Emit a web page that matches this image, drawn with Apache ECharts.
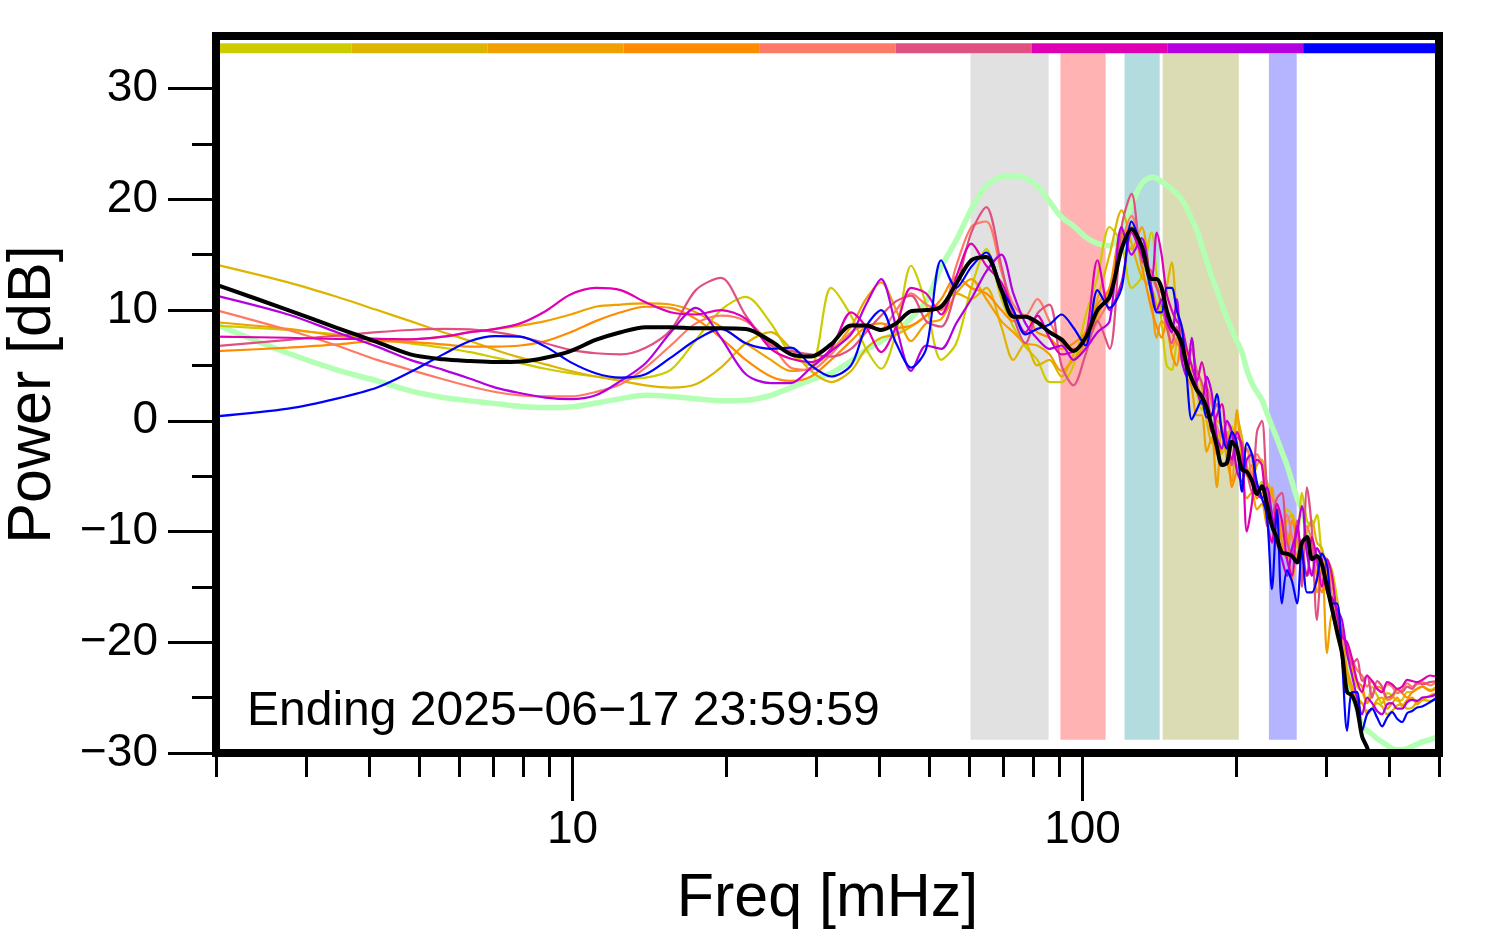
<!DOCTYPE html>
<html><head><meta charset="utf-8">
<script src="https://cdn.jsdelivr.net/npm/echarts@6/dist/echarts.min.js"></script>
<style>html,body{margin:0;padding:0;background:#fff}#c{width:1494px;height:952px}</style>
</head><body><div id="c"></div>
<script>
// ---- data ----
const freq = [2.00, 2.77, 3.45, 4.14, 4.81, 5.58, 6.30, 7.06, 7.90, 8.85,
  9.91, 11.10, 12.43, 13.91, 15.58, 17.45, 19.54, 21.87, 24.49, 26.81,
  29.35, 32.13, 35.17, 37.63, 40.29, 43.11, 46.13, 49.37, 52.84, 56.55,
  60.52, 64.77, 69.32, 73.17, 77.27, 81.56, 86.13, 90.94, 96.0, 101.4,
  107.0, 113.0, 119.3, 124.8, 130.6,
  136.6, 139.8, 142.9, 146.2, 149.6, 153.0, 156.5, 160.1, 163.7, 167.5,
  171.3, 175.2, 179.2, 183.4, 187.6, 191.9, 196.3, 200.7, 205.4, 210.0,
  214.8, 219.8, 224.8, 229.9, 235.2, 240.6, 246.0, 251.7, 257.5, 263.4,
  269.3, 275.5, 281.8, 288.2, 294.8, 301.6, 308.5, 315.5, 322.7, 330.2,
  337.7, 345.4, 353.3, 361.4, 369.7, 378.1, 386.7, 395.6, 404.7, 413.9,
  423.4, 433.1, 443.0, 453.1, 463.4, 480.6, 500];

const meanPower = [12.3, 10.0, 8.4, 7.1, 6.0, 5.55, 5.4, 5.3, 5.35, 5.7,
  6.3, 7.3, 8.0, 8.45, 8.45, 8.35, 8.35, 8.3, 7.2, 6.0,
  5.8, 6.9, 8.6, 8.6, 8.2, 8.8, 9.9, 10.0, 10.3, 12.4,
  14.5, 14.8, 11.8, 9.4, 9.4, 8.9, 8.0, 7.35, 6.3, 7.5,
  10.0, 11.2, 15.5, 17.3, 15.8,
  12.8, 12.8, 12.0, 10.0, 8.6, 8.0, 7.0, 5.0, 3.8, 2.8,
  2.2, 1.2, -0.5, -2.3, -4.0, -3.8, -1.9, -2.5, -4.4, -4.6,
  -5.4, -6.6, -5.9, -7.5, -9.5, -10.6, -11.9, -12.0, -12.2, -12.8,
  -11.0, -10.5, -12.5, -12.2, -13.0, -15.0, -17.0, -19.0, -21.0, -24.5,
  -24.8, -26.0, -28.5, -29.5, -31.0, -33, -33, -33, -33, -33,
  -33, -33, -33, -33, -33, -33, -33];

const referencePower = [8.7, 6.1, 4.6, 3.6, 2.7, 2.1, 1.8, 1.55, 1.3, 1.2,
  1.25, 1.6, 2.0, 2.3, 2.2, 2.0, 1.8, 1.85, 2.3, 3.0,
  3.7, 4.3, 5.4, 6.4, 7.2, 8.0, 9.3, 10.8, 13.9, 16.3,
  19.1, 21.2, 22.0, 22.1, 21.9, 21.2, 19.8, 18.4, 17.6, 16.6,
  16.0, 15.8, 17.0, 19.5, 21.4,
  22.0, 21.9, 21.6, 21.3, 20.9, 20.5, 20.0, 19.2, 18.2, 17.2,
  15.8, 14.4, 13.0, 11.8, 10.5, 9.3, 8.2, 7.2, 6.2, 4.6,
  3.4, 2.6, 1.9, 0.7, -0.5, -1.6, -2.8, -4.0, -5.5, -7.0,
  -8.0, -9.8, -11.5, -12.3, -13.0, -14.5, -16.5, -18.0, -20.0, -22.5,
  -24.5, -26.0, -27.5, -28.0, -28.3, -28.7, -29.0, -29.3, -29.6, -29.7,
  -29.7, -29.6, -29.4, -29.2, -29.0, -28.8, -28.5];

const day1 = [8.6, 8.2, 7.8, 7.35, 7.0, 6.6, 6.2, 5.7, 5.2, 4.7,
  4.3, 4.0, 3.8, 3.9, 4.6, 7.3, 10.0, 11.2, 8.8, 6.0,
  5.0, 12.0, 9.5, 6.5, 4.7, 8.0, 14.0, 10.5, 5.5, 7.0,
  12.0, 15.5, 11.0, 8.5, 6.7, 5.5, 3.5, 3.5, 5.0, 9.5,
  13.0, 17.5, 16.0, 12.0, 13.0,
  17.0, 13.0, 9.0, 5.0, 4.6, 7.0, 8.0, 5.5, 4.0, 2.5,
  1.0, 2.0, -0.5, -1.0, -3.0, -1.5, -0.5, -2.5, -4.0, -2.5,
  -3.5, -6.5, -5.5, -7.0, -9.0, -11.0, -10.5, -8.0, -8.5, -11.5,
  -6.5, -9.0, -9.5, -8.5, -12.0, -12.5, -13.5, -16.0, -19.0, -21.0,
  -22.5, -24.0, -24.5, -25.5, -24.0, -24.8, -25.5, -24.6, -24.8, -25.3,
  -25.2, -24.5, -24.5, -24.2, -24.0, -24.3, -23.8];

const day2 = [14.1, 12.5, 11.2, 10.0, 9.0, 8.0, 7.2, 6.4, 5.7, 5.1,
  4.5, 4.0, 3.6, 3.2, 3.0, 3.3, 4.8, 7.0, 8.0, 6.5,
  4.5, 3.5, 4.5, 6.5, 7.5, 7.8, 8.5, 9.5, 10.5, 11.5,
  11.0, 12.0, 8.5, 5.5, 7.0, 5.0, 5.5, 4.0, 6.0, 8.0,
  11.0, 15.0, 19.0, 16.0, 13.0,
  12.0, 10.5, 9.5, 12.0, 14.3, 10.0, 8.0, 6.0, 4.5, 4.5,
  3.0, 0.0, -2.0, 0.0, -0.5, -3.0, -4.0, 0.5, -1.5, -4.0,
  -5.5, -4.0, -3.5, -5.5, -6.5, -9.0, -10.5, -9.0, -8.5, -10.5,
  -12.0, -10.0, -9.0, -11.0, -11.5, -14.0, -17.0, -19.5, -21.0, -23.0,
  -24.5, -25.0, -25.5, -26.2, -26.0, -25.5, -25.8, -26.5, -26.2, -25.7,
  -25.6, -26.0, -25.9, -25.4, -25.2, -25.3, -24.8];

const day3 = [8.9, 8.3, 7.7, 7.4, 7.35, 7.6, 8.0, 8.3, 8.6, 9.0,
  9.6, 10.3, 10.5, 10.6, 10.5, 9.8, 8.5, 7.0, 5.5, 4.5,
  4.8, 6.3, 8.5, 11.0, 12.5, 10.0, 7.2, 8.8, 9.2, 11.5,
  12.8, 11.0, 9.0, 8.0, 7.0, 6.8, 6.0, 4.5, 5.5, 7.0,
  9.5, 12.0, 17.0, 15.5, 17.5,
  11.0, 7.5, 9.0, 8.5, 6.5, 7.5, 5.5, 4.0, 3.0, 0.5,
  0.5, -2.8, -1.5, -6.0, -0.5, -3.5, -5.5, 1.0, -4.0, -7.0,
  -6.5, -8.0, -7.5, -9.5, -6.0, -11.0, -12.0, -10.0, -14.5, -12.0,
  -11.0, -14.0, -13.5, -15.5, -13.0, -21.0, -17.5, -19.0, -19.5, -22.5,
  -24.0, -25.5, -25.5, -26.5, -26.0, -25.2, -25.0, -26.0, -25.5, -25.0,
  -25.8, -25.2, -25.0, -25.6, -25.2, -24.8, -24.5];

const day4 = [6.3, 6.6, 6.9, 7.2, 7.1, 6.9, 6.7, 6.7, 6.8, 7.2,
  8.0, 9.0, 9.8, 10.3, 10.2, 9.2, 7.5, 5.5, 4.0, 3.6,
  4.0, 5.5, 7.2, 8.5, 8.8, 8.4, 8.6, 9.5, 11.0, 13.0,
  12.0, 11.5, 10.0, 9.0, 9.5, 8.0, 7.5, 6.5, 7.0, 8.0,
  10.5, 12.0, 16.5, 17.5, 14.0,
  10.0, 8.5, 7.5, 9.0, 6.0, 5.0, 7.5, 5.5, 3.5, 3.0,
  2.0, 0.5, -0.5, -3.0, -2.5, -1.0, -6.0, -4.5, -3.0, -5.0,
  -4.0, -7.0, -6.5, -8.0, -9.5, -8.0, -11.0, -12.5, -9.0, -10.5,
  -12.5, -11.0, -12.0, -14.0, -15.5, -13.5, -14.5, -18.0, -19.0, -21.0,
  -22.0, -23.5, -24.0, -25.5, -24.8, -24.0, -24.2, -25.2, -25.0, -24.3,
  -24.6, -25.0, -24.5, -24.2, -24.0, -24.4, -24.0];

const day5 = [10.0, 8.2, 6.8, 5.5, 4.6, 3.75, 3.1, 2.6, 2.3, 2.2,
  2.2, 2.6, 3.3, 4.8, 6.8, 8.8, 9.5, 9.0, 7.0, 4.8,
  4.6, 6.0, 8.0, 8.5, 8.3, 10.0, 11.5, 10.5, 10.0, 14.0,
  17.5, 18.0, 13.5, 10.5, 9.5, 11.0, 9.0, 7.0, 6.5, 7.0,
  9.0, 11.0, 16.0, 18.5, 15.5,
  13.0, 12.0, 11.5, 9.5, 8.0, 7.0, 6.5, 5.0, 7.3, 3.5,
  2.5, 3.0, 1.5, -0.5, -1.5, 0.0, -1.5, -3.0, -3.5, -2.5,
  -5.0, -3.0, -4.0, -6.5, -7.0, -8.0, -9.5, -8.5, -10.5, -12.5,
  -11.5, -9.5, -11.0, -13.0, -14.5, -13.0, -16.0, -18.0, -20.0, -20.5,
  -21.5, -22.5, -23.0, -24.0, -23.5, -24.2, -24.5, -23.8, -24.0, -24.6,
  -24.3, -23.7, -24.0, -23.8, -23.6, -23.9, -23.3];

const day6 = [6.75, 7.3, 7.7, 8.0, 8.2, 8.3, 8.25, 8.0, 7.6, 7.0,
  6.4, 6.1, 6.0, 6.6, 8.2, 11.8, 12.9, 9.5, 6.8, 6.3,
  6.0, 5.8, 6.5, 8.0, 9.5, 10.8, 11.3, 9.0, 8.5, 12.0,
  17.0, 19.3, 14.0, 9.5, 7.0, 9.7, 10.5, 5.0, 3.2, 6.0,
  9.0, 6.5, 17.5, 20.5, 14.5,
  13.5, 12.0, 10.5, 8.5, 7.0, 8.5, 6.0, 5.0, 6.5, 4.5,
  3.5, 2.0, 0.5, 1.5, -1.0, -2.0, -4.0, -1.5, -2.0, -4.5,
  -6.5, -1.0, 0.0, -6.0, -8.5, -7.0, -6.5, -11.0, -12.0, -9.0,
  -15.0, -6.0, -10.0, -18.0, -13.5, -15.0, -17.0, -17.5, -19.0, -20.5,
  -22.0, -21.5, -23.5, -23.0, -25.0, -23.5, -24.0, -25.0, -24.8, -24.2,
  -24.5, -24.0, -24.2, -23.6, -23.8, -23.6, -23.5];

const day7 = [7.6, 7.5, 7.4, 7.4, 7.35, 7.6, 8.0, 8.3, 8.8, 9.9,
  11.4, 12.0, 11.8, 10.7, 9.8, 9.6, 10.0, 9.2, 6.5, 5.6,
  5.3, 6.5, 9.8, 8.5, 6.2, 8.5, 12.0, 11.5, 9.6, 13.0,
  16.0, 14.0, 12.5, 10.0, 8.0, 9.5, 7.5, 6.0, 6.3, 7.5,
  14.5, 10.0, 12.5, 17.0, 15.0,
  13.0, 17.0, 15.0, 11.5, 10.0, 9.0, 8.5, 6.5, 5.0, 3.5,
  5.3, 3.0, -1.0, 0.5, 1.5, -2.0, -3.5, -1.0, -2.5, -10.0,
  -7.5, -3.5, -4.0, -9.0, -11.0, -7.5, -9.0, -12.5, -14.0, -9.5,
  -12.0, -14.0, -10.5, -12.5, -15.0, -12.5, -14.0, -17.5, -19.5, -20.0,
  -21.5, -23.5, -24.5, -23.0, -23.5, -24.2, -24.5, -23.6, -23.8, -24.2,
  -24.0, -23.4, -23.5, -23.6, -23.4, -23.0, -23.2];

const day8 = [11.3, 9.6, 8.0, 6.7, 5.5, 4.6, 3.8, 3.0, 2.5, 2.1,
  1.95, 2.3, 3.6, 5.2, 8.0, 10.2, 7.5, 4.2, 3.4, 3.4,
  4.8, 6.3, 7.8, 10.5, 12.8, 8.5, 4.5, 6.8, 6.5, 8.8,
  11.0, 13.5, 15.0, 11.5, 8.8, 7.4, 6.5, 6.8, 5.5, 6.5,
  8.0, 9.0, 17.5, 15.0, 16.5,
  12.0, 10.0, 11.0, 9.0, 8.0, 11.0, 5.5, 4.0, 7.5, 3.0,
  1.5, 4.0, 2.5, -1.5, -2.5, 0.0, -1.0, -4.5, -5.5, -3.5,
  -3.0, -6.5, -7.0, -6.0, -8.5, -11.0, -12.5, -14.0, -11.5, -10.0,
  -7.7, -12.0, -14.0, -11.5, -12.5, -15.5, -16.0, -17.0, -18.0, -21.0,
  -23.0, -25.0, -26.5, -25.0, -25.5, -26.2, -26.5, -25.6, -25.5, -26.0,
  -26.0, -25.4, -25.2, -25.3, -25.0, -24.9, -24.6];

const day9 = [0.4, 1.1, 2.0, 3.0, 4.4, 6.0, 7.2, 7.65, 7.6, 6.7,
  5.3, 4.3, 3.9, 4.2, 5.7, 7.3, 8.3, 7.0, 6.5, 6.6,
  5.0, 4.0, 5.0, 8.5, 10.0, 7.0, 4.8, 6.5, 14.5, 12.0,
  13.9, 15.2, 12.0, 10.0, 7.8, 8.3, 8.7, 9.6, 8.4, 6.8,
  11.8, 10.2, 12.0, 18.0, 15.5,
  11.5, 9.8, 9.8, 12.0, 12.0, 10.0, 8.5, 4.0, 0.1, 1.0,
  1.9, 0.3, 0.5, 2.4, -1.0, -2.5, -1.0, -2.0, -6.4, -2.0,
  -3.0, -5.6, -7.0, -8.5, -15.2, -8.0, -16.5, -13.5, -14.5, -16.5,
  -11.5, -15.5, -15.5, -14.3, -12.0, -13.0, -16.5, -16.5, -21.5, -28.0,
  -24.5, -24.5, -28.0, -26.5, -26.0, -26.8, -27.6, -26.8, -26.3, -26.9,
  -27.2, -26.4, -26.2, -25.9, -25.8, -25.4, -24.9];

const daySeries = [day1, day2, day3, day4, day5, day6, day7, day8, day9];
const dayBarEdges = [2, 3.69, 6.82, 12.6, 23.3, 43.0, 79.4, 146.6, 270.8, 500];
const bandRanges = [[60.3, 85.8], [90.5, 111], [120.9, 141.7], [143.6, 202.5], [232, 263]];
const majorTicksX = [10, 100];
const minorTicksX = [2, 3, 4, 5, 6, 7, 8, 9, 20, 30, 40, 50, 60, 70, 80, 90, 200, 300, 400, 500];
const majorTicksY = [-30, -20, -10, 0, 10, 20, 30];
const minorTicksY = [-25, -15, -5, 5, 15, 25];
const endingText = 'Ending 2025\u221206\u221217 23:59:59';

// ---- styles ----
const dayColors = ['#cccc00', '#ddb400', '#f0a000', '#ff8c00', '#ff7a66', '#e05080', '#e000b4', '#b400e0', '#0000ff'];
const bandColors = ['#e1e1e1', '#ffb3b3', '#b3dcdf', '#dcdcb4', '#b4b4ff'];
const FONT = '"Liberation Sans", Arial, Helvetica, sans-serif';
const Y_MAX = 34.75;
const BAR_LO = 33.2, BAR_HI = 34.1, BAND_LO = -28.8, BAND_HI = 33.2;

const pairs = arr => freq.map((f, i) => [f, arr[i]]);
const fmt = v => (v < 0 ? '\u2212' + Math.abs(v) : String(v));

const areas = [];
bandRanges.forEach((r, i) => areas.push([
  { xAxis: r[0], yAxis: BAND_LO, itemStyle: { color: bandColors[i] } },
  { xAxis: r[1], yAxis: BAND_HI }
]));
for (let i = 0; i < 9; i++) areas.push([
  { xAxis: dayBarEdges[i], yAxis: BAR_LO, itemStyle: { color: dayColors[i] } },
  { xAxis: dayBarEdges[i + 1], yAxis: BAR_HI }
]);

const series = [];
series.push({
  type: 'line', data: pairs(referencePower), showSymbol: false, smooth: 0.3,
  lineStyle: { color: '#b3ffb3', width: 5.5 }, z: 2,
  markArea: { silent: true, data: areas, itemStyle: { opacity: 1 } }
});
daySeries.forEach((d, i) => series.push({
  type: 'line', data: pairs(d), showSymbol: false, smooth: 0.3,
  lineStyle: { color: dayColors[i], width: 2.2 }, z: 3
}));
series.push({
  type: 'line', data: pairs(meanPower), showSymbol: false, smooth: 0.3,
  lineStyle: { color: '#000', width: 4 }, z: 4
});

const tickStyle = { color: '#000', width: 3 };
const chart = echarts.init(document.getElementById('c'), null, { renderer: 'canvas' });
chart.setOption({
  animation: false,
  grid: { left: 216, right: 55, top: 36, bottom: 199, containLabel: false, outerBoundsMode: 'none',
    show: true, borderColor: '#000', borderWidth: 8, backgroundColor: 'transparent', z: 10 },
  xAxis: [
    { type: 'log', logBase: 10, min: 2, max: 500, gridIndex: 0, position: 'bottom',
      axisLine: { show: false, onZero: false }, splitLine: { show: false },
      axisTick: { show: true, customValues: majorTicksX, length: 48, lineStyle: tickStyle },
      axisLabel: { customValues: majorTicksX, fontSize: 46, fontFamily: FONT, color: '#000', margin: 54 },
      name: 'Freq [mHz]', nameLocation: 'middle', nameGap: 116,
      nameTextStyle: { fontSize: 61, fontFamily: FONT, color: '#000' } },
    { type: 'log', logBase: 10, min: 2, max: 500, gridIndex: 0, position: 'bottom',
      axisLine: { show: false, onZero: false }, splitLine: { show: false },
      axisTick: { show: true, customValues: minorTicksX, length: 24, lineStyle: tickStyle },
      axisLabel: { show: false } }
  ],
  yAxis: [
    { type: 'value', min: -30, max: Y_MAX, gridIndex: 0, position: 'left',
      axisLine: { show: false, onZero: false }, splitLine: { show: false },
      axisTick: { show: true, customValues: majorTicksY, length: 48, lineStyle: tickStyle },
      axisLabel: { customValues: majorTicksY, fontSize: 46, fontFamily: FONT, color: '#000', margin: 58, formatter: fmt },
      name: 'Power [dB]', nameLocation: 'middle', nameGap: 152, nameRotate: 90,
      nameTextStyle: { fontSize: 61, fontFamily: FONT, color: '#000' } },
    { type: 'value', min: -30, max: Y_MAX, gridIndex: 0, position: 'left',
      axisLine: { show: false, onZero: false }, splitLine: { show: false },
      axisTick: { show: true, customValues: minorTicksY, length: 24, lineStyle: tickStyle },
      axisLabel: { show: false } }
  ],
  series: series,
  graphic: [{
    type: 'text', left: 247, top: 688, z: 20,
    style: { text: endingText, font: '48px ' + FONT, fill: '#000' }
  }]
});
</script></body></html>
